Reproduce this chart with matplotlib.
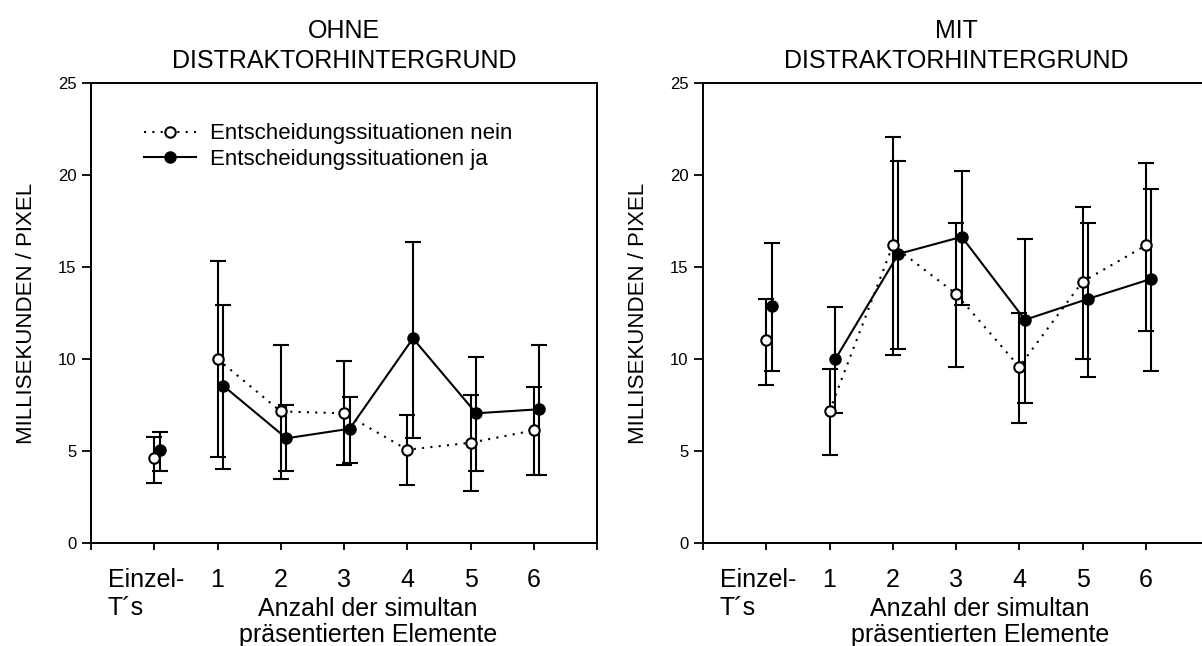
import matplotlib
matplotlib.use('Agg')
import matplotlib.pyplot as plt
import matplotlib.transforms as mtransforms
import numpy as np

plt.rcParams['font.family'] = ['Liberation Sans', 'DejaVu Sans']

x_pos = [0, 1, 2, 3, 4, 5, 6]
x_labels = ['Einzel-\nT´s', '1', '2', '3', '4', '5', '6']
titles = ['OHNE\nDISTRAKTORHINTERGRUND', 'MIT\nDISTRAKTORHINTERGRUND']
label_nein = 'Entscheidungssituationen nein'
label_ja = 'Entscheidungssituationen ja'

# OHNE Distraktorhintergrund
ohne_nein = [4.6, 10.0, 7.15, 7.05, 5.07, 5.45, 6.12]
ohne_nein_hi = [5.74, 15.33, 10.74, 9.87, 6.96, 8.03, 8.46]
ohne_nein_lo = [3.24, 4.66, 3.46, 4.22, 3.13, 2.81, 3.68]
ohne_ja = [5.04, 8.55, 5.69, 6.21, 11.12, 7.05, 7.27]
ohne_ja_hi = [6.05, 12.92, 7.48, 7.93, 16.38, 10.09, 10.74]
ohne_ja_lo = [3.9, 4.0, 3.9, 4.33, 5.72, 3.9, 3.68]

# MIT Distraktorhintergrund
mit_nein = [11.01, 7.17, 16.17, 13.54, 9.58, 14.2, 16.17]
mit_nein_hi = [13.27, 9.47, 22.07, 17.4, 12.51, 18.27, 20.66]
mit_nein_lo = [8.6, 4.78, 10.23, 9.58, 6.54, 10.02, 11.54]
mit_ja = [12.87, 9.98, 15.71, 16.64, 12.13, 13.27, 14.36]
mit_ja_hi = [16.31, 12.84, 20.76, 20.22, 16.53, 17.4, 19.25]
mit_ja_lo = [9.36, 7.08, 10.56, 12.95, 7.63, 9.04, 9.36]

panels = [
    (ohne_nein, ohne_nein_lo, ohne_nein_hi, ohne_ja, ohne_ja_lo, ohne_ja_hi),
    (mit_nein, mit_nein_lo, mit_nein_hi, mit_ja, mit_ja_lo, mit_ja_hi),
]

fig = plt.figure(figsize=(12.02, 6.46), dpi=100)
ax1 = fig.add_axes([91 / 1202, 103 / 646, 506 / 1202, 460 / 646])
ax2 = fig.add_axes([703 / 1202, 103 / 646, 506 / 1202, 460 / 646])

shift = 0.09
lw = 1.5
dot_style = (0, (1, 3))

for ax, title, data in zip([ax1, ax2], titles, panels):
    nein, nein_lo, nein_hi, ja, ja_lo, ja_hi = [np.array(d) for d in data]
    xn = np.array(x_pos, dtype=float)
    xj = xn + shift

    ax.errorbar(xn, nein, yerr=[nein - nein_lo, nein_hi - nein], fmt='none',
                ecolor='k', elinewidth=lw, capsize=6, capthick=lw, zorder=2)
    ax.errorbar(xj, ja, yerr=[ja - ja_lo, ja_hi - ja], fmt='none',
                ecolor='k', elinewidth=lw, capsize=6, capthick=lw, zorder=2)

    # connected lines only for 1..6
    ax.plot(xn[1:], nein[1:], color='k', lw=lw, linestyle=dot_style, zorder=3)
    ax.plot(xj[1:], ja[1:], color='k', lw=lw, linestyle='-', zorder=3)
    ax.plot(xj, ja, 'o', color='k', ms=8, zorder=4)
    ax.plot(xn, nein, 'o', mfc='white', mec='k', mew=1.5, ms=7.5, zorder=5)

    ax.set_xlim(-1, 7)
    ax.set_ylim(0, 25)
    ax.set_xticks(range(-1, 8))
    ax.set_xticklabels([''] + x_labels + [''], fontsize=18, multialignment='left')
    ax.set_yticks([0, 5, 10, 15, 20, 25])
    ax.tick_params(axis='y', labelsize=12, length=6.5, width=1.3, direction='out', pad=4)
    ax.tick_params(axis='x', length=5, width=1.3, direction='out', pad=13)
    for sp in ax.spines.values():
        sp.set_linewidth(1.4)
    ax.set_title(title, fontsize=18, pad=11, linespacing=1.3)
    ax.set_ylabel('MILLISEKUNDEN / PIXEL', fontsize=16, labelpad=15)
    ax.set_xlabel('Anzahl der simultan\npräsentierten Elemente', fontsize=18,
                  linespacing=1.1)
    ax.xaxis.set_label_coords(0.547, -0.118)

    # the "Einzel-" label sits a little left of its tick
    lab = ax.get_xticklabels()[1]
    lab.set_transform(lab.get_transform() +
                      mtransforms.ScaledTranslation(-0.085, 0, fig.dpi_scale_trans))

# legend in left panel
h_nein = plt.Line2D([], [], color='k', lw=lw, linestyle=dot_style, marker='o',
                    mfc='white', mec='k', mew=1.5, ms=7.5)
h_ja = plt.Line2D([], [], color='k', lw=lw, linestyle='-', marker='o', ms=8)
ax1.legend([h_nein, h_ja], [label_nein, label_ja], loc='upper left',
           bbox_to_anchor=(0.105, 0.912), frameon=False, fontsize=16,
           handlelength=2.35, handletextpad=0.6, labelspacing=0.2,
           borderpad=0, borderaxespad=0)

fig.savefig('out.png', dpi=100)
